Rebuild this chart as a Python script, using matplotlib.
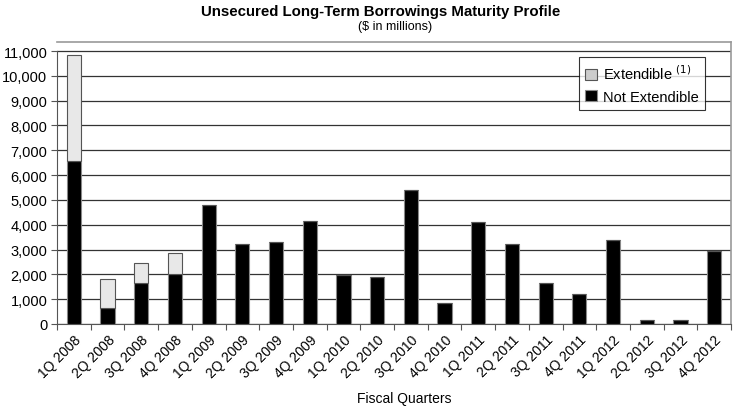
import matplotlib.pyplot as plt
import numpy as np

plt.rcParams['font.family'] = ['Liberation Sans', 'DejaVu Sans']

quarters = ['1Q 2008', '2Q 2008', '3Q 2008', '4Q 2008',
            '1Q 2009', '2Q 2009', '3Q 2009', '4Q 2009',
            '1Q 2010', '2Q 2010', '3Q 2010', '4Q 2010',
            '1Q 2011', '2Q 2011', '3Q 2011', '4Q 2011',
            '1Q 2012', '2Q 2012', '3Q 2012', '4Q 2012']
not_extendible = [6550, 650, 1650, 2000,
                  4800, 3230, 3300, 4150,
                  1980, 1880, 5400, 830,
                  4100, 3220, 1650, 1200,
                  3380, 180, 180, 2930]
extendible = [4300, 1150, 800, 850,
              0, 0, 0, 0,
              0, 0, 0, 0,
              0, 0, 0, 0,
              0, 0, 0, 0]

fig = plt.figure(figsize=(7.33, 4.10), dpi=100)
ax = fig.add_axes([57/733, 1 - 325/410, (731 - 57)/733, (325 - 43)/410])

x = np.arange(len(quarters))
w = 0.42
ax.bar(x, not_extendible, w, color='black', edgecolor='#888888', linewidth=0.8,
       label='Not Extendible', zorder=3)
ax.bar(x, extendible, w, bottom=not_extendible, color='#e8e8e8', edgecolor='#555555',
       linewidth=0.8, label='Extendible $^{(1)}$', zorder=3)

ax.set_xlim(-0.5, len(quarters) - 0.5)
ax.set_ylim(0, 11000 * (325 - 43) / (325 - 52))
yt = np.arange(0, 11001, 1000)
ax.set_yticks(yt)
ax.set_yticklabels([f'{v:,}' for v in yt], fontsize=10.5)
ax.yaxis.grid(True, color='#333333', linewidth=0.9, zorder=0)
ax.tick_params(axis='y', length=4, width=0.8, color='#555555', pad=3)

ax.set_xticks(x)
ax.set_xticklabels(quarters, rotation=45, ha='right', rotation_mode='anchor', fontsize=10)
ax.tick_params(axis='x', length=0, pad=6)
ax.set_xticks(np.arange(-0.5, len(quarters), 1), minor=True)
ax.tick_params(axis='x', which='minor', length=4, width=0.8, color='#555555')

ax.spines['left'].set_bounds(0, 11000)
ax.spines['left'].set_color('#555555')
ax.spines['bottom'].set_color('#555555')
ax.spines['top'].set_color('#999999')
ax.spines['right'].set_color('#999999')
ax.spines['top'].set_linewidth(1.2)
ax.spines['right'].set_linewidth(1.2)

handles, labels = ax.get_legend_handles_labels()
leg = ax.legend(handles[::-1], labels[::-1], loc='upper right',
                bbox_to_anchor=((705 - 57) / (731 - 57), 1 - (58 - 43) / 282),
                fontsize=10.5, frameon=True, fancybox=False, edgecolor='black',
                handlelength=0.8, handleheight=0.8, handletextpad=0.4, borderpad=0.45,
                labelspacing=0.5, borderaxespad=0)
leg.get_frame().set_linewidth(0.8)
leg.legend_handles[0].set_facecolor('#cccccc')

fig.text(381/733, 1 - 12/410, 'Unsecured Long-Term Borrowings Maturity Profile',
         ha='center', va='center', fontsize=10.8, fontweight='bold')
fig.text(395/733, 1 - 27/410, '($ in millions)', ha='center', va='center', fontsize=9)
fig.text(404/733, 1 - 399/410, 'Fiscal Quarters', ha='center', va='center', fontsize=10)

fig.savefig('out.png', dpi=100)
